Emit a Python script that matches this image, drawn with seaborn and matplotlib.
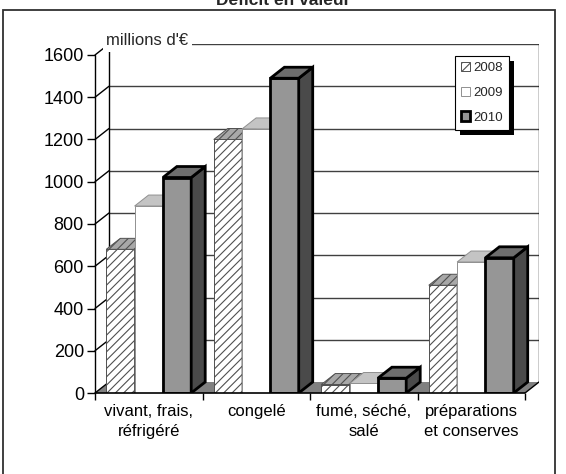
import matplotlib
matplotlib.use("Agg")
import matplotlib.pyplot as plt
import seaborn as sns
import pandas as pd
from matplotlib.patches import Polygon, Rectangle, Patch

# ---- data ----
categories = ['vivant, frais,\nréfrigéré', 'congelé', 'fumé, séché,\nsalé', 'préparations\net conserves']
years = ['2008', '2009', '2010']
v2008 = [680, 1200, 40, 510]
v2009 = [885, 1250, 45, 620]
v2010 = [1020, 1490, 70, 640]
yticks = [0, 200, 400, 600, 800, 1000, 1200, 1400, 1600]
title = 'Déficit en valeur'
unit_label = "millions d'€"

sns.set_theme(style='white')
plt.rcParams['font.family'] = ['Liberation Sans', 'DejaVu Sans']
plt.rcParams['hatch.linewidth'] = 0.8

df = pd.DataFrame({
    'cat': categories * 3,
    'val': v2008 + v2009 + v2010,
    'year': [y for y in years for _ in categories],
})

W, H = 566, 474
fig = plt.figure(figsize=(W / 100, H / 100), dpi=100)
fig.patch.set_facecolor('white')

# axes: front x from 95..525 px, back offset 14 px right, 11 px up
ax = fig.add_axes([95 / W, 1 - 393 / H, 444 / W, 349 / H])
DX = 14 / 107.5
DY = 11 / (338 / 1600)
ax.set_facecolor('none')
for s in ax.spines.values():
    s.set_visible(False)

pal = {'2008': 'white', '2009': 'white', '2010': '#969696'}
sns.barplot(data=df, x='cat', y='val', hue='year', palette=pal, width=0.79,
            gap=0, dodge=True, legend=False, ax=ax, saturation=1)
ax.set_xlim(-0.5, 3.5 + DX)
ax.set_ylim(0, 1600 + DY)

front_style = [
    dict(facecolor='white', edgecolor='#505050', linewidth=0.7, hatch='////'),
    dict(facecolor='white', edgecolor='#909090', linewidth=0.7),
    dict(facecolor='#969696', edgecolor='black', linewidth=2.0),
]
top_style = [
    dict(facecolor='#a8a8a8', edgecolor='#505050', linewidth=0.7, hatch='////'),
    dict(facecolor='#c4c4c4', edgecolor='#909090', linewidth=0.7),
    dict(facecolor='#6e6e6e', edgecolor='black', linewidth=2.0),
]
side_style = [
    dict(facecolor='#808080', edgecolor='#505050', linewidth=0.7),
    dict(facecolor='#d0d0d0', edgecolor='#909090', linewidth=0.7),
    dict(facecolor='#4a4a4a', edgecolor='black', linewidth=2.0),
]

for j, cont in enumerate(ax.containers):
    for i, p in enumerate(cont.patches):
        z = 3 + i * 0.3 + j * 0.1
        p.set(**front_style[j])
        p.set_zorder(z)
        x0, w, h = p.get_x(), p.get_width(), p.get_height()
        side = Polygon([(x0 + w, 0), (x0 + w + DX, DY), (x0 + w + DX, h + DY), (x0 + w, h)],
                       closed=True, zorder=z + 0.01, joinstyle='miter', **side_style[j])
        top = Polygon([(x0, h), (x0 + w, h), (x0 + w + DX, h + DY), (x0 + DX, h + DY)],
                      closed=True, zorder=z + 0.02, joinstyle='miter', **top_style[j])
        ax.add_patch(side)
        ax.add_patch(top)

x0a, x1a = -0.5, 3.5
# floor
ax.add_patch(Polygon([(x0a, 0), (x1a, 0), (x1a + DX, DY), (x0a + DX, DY)], closed=True,
                     facecolor='#808080', edgecolor='none', zorder=1))
# back wall gridlines
for t in yticks[1:]:
    ax.plot([x0a + DX, x1a + DX], [t + DY, t + DY], color='#404040', lw=1, zorder=0.5)
    ax.plot([x0a, x0a + DX], [t, t + DY], color='black', lw=1, zorder=0.5, clip_on=False)
# back wall edges
ax.plot([x0a + DX, x0a + DX], [DY, 1600 + DY], color='black', lw=1, zorder=0.6)
ax.plot([x1a + DX, x1a + DX], [DY, 1600 + DY], color='black', lw=1, zorder=0.6)
ax.plot([x1a, x1a + DX], [0, DY], color='black', lw=1, zorder=2)
ax.plot([x0a, x0a + DX], [0, DY], color='black', lw=1, zorder=2)
# front axes
ax.plot([x0a, x0a], [0, 1600], color='black', lw=1, zorder=10, clip_on=False)
ax.plot([x0a, x1a], [0, 0], color='black', lw=1.2, zorder=10, clip_on=False)

ax.set_yticks(yticks)
ax.set_yticklabels([str(t) for t in yticks], fontsize=13, color='black')
ax.tick_params(axis='y', left=True, length=6, width=1, pad=2, direction='out', color='black')
ax.set_xticks(range(len(categories)))
ax.set_xticklabels(categories, fontsize=12, color='black', linespacing=1.4)
ax.set_xticks([-0.5, 0.5, 1.5, 2.5, 3.5], minor=True)
ax.tick_params(axis='x', which='major', bottom=True, length=0, pad=8)
ax.tick_params(axis='x', which='minor', bottom=True, length=5, width=1, color='black', direction='out')
ax.set_xlabel('')
ax.set_ylabel('')
ax.grid(False)

# unit label
fig.text(106 / W, 1 - 45 / H, unit_label, fontsize=12, ha='left', va='baseline',
         bbox=dict(facecolor='white', edgecolor='none', pad=2.5), zorder=20)

# title (cut off at the top, as in the reference)
fig.text(0.5, 1 - 5 / H, title, fontsize=12.5, fontweight='bold', ha='center', va='baseline')

# outer border
fig.patches.append(Rectangle((3 / W, -0.02), 552 / W, 1 - 10 / H + 0.02, transform=fig.transFigure,
                             facecolor='none', edgecolor='#303030', linewidth=1.3, zorder=30))

# legend
handles = [Patch(**front_style[0]), Patch(**front_style[1]),
           Patch(facecolor='#969696', edgecolor='black', linewidth=2.0)]
leg = fig.legend(handles, years, loc='upper left', bbox_to_anchor=(455 / W, 1 - 56 / H),
                 bbox_transform=fig.transFigure, fontsize=9.5, handlelength=0.7,
                 handleheight=0.7, handletextpad=0.25, labelspacing=0.95, borderpad=0.45,
                 borderaxespad=0, fancybox=False, frameon=True, framealpha=1,
                 edgecolor='black')
leg.get_frame().set_linewidth(0.8)
leg.set_zorder(25)
fig.canvas.draw()
bb = leg.get_window_extent().transformed(fig.transFigure.inverted())
fig.patches.append(Rectangle((bb.x0 + 5 / W, bb.y0 - 5 / H), bb.width, bb.height,
                             transform=fig.transFigure, facecolor='black', edgecolor='none',
                             zorder=24))

fig.savefig('out.png', dpi=100)
